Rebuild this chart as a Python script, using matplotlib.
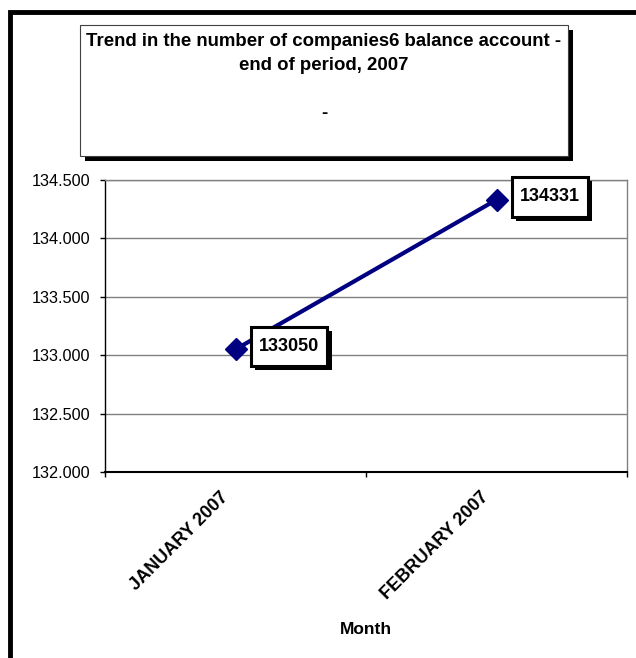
import matplotlib.pyplot as plt
import matplotlib.patheffects as pe
from matplotlib.patches import Rectangle
from matplotlib.path import Path
from matplotlib.ticker import FuncFormatter
from matplotlib.transforms import ScaledTranslation

# --- data ---
months = ['JANUARY 2007', 'FEBRUARY 2007']
companies = [133050, 134331]
y_ticks = [132000, 132500, 133000, 133500, 134000, 134500]

plt.rcParams['font.family'] = ['Liberation Sans', 'DejaVu Sans']

W, H = 636, 658
fig = plt.figure(figsize=(W / 100, H / 100), dpi=100)
fig.patch.set_facecolor('white')

def fx(px):
    return px / W

def fy(py):
    return 1 - py / H

# box with more room above/below the text than at the sides
def label_box(x0, y0, width, height, mutation_size):
    px, py = 0.45 * mutation_size, 0.62 * mutation_size
    x0, y0 = x0 - px, y0 - py
    x1, y1 = x0 + width + 2 * px, y0 + height + 2 * py
    return Path([(x0, y0), (x1, y0), (x1, y1), (x0, y1), (x0, y0)], closed=True)

# outer chart frame (runs off the right and bottom edges)
fig.patches.append(Rectangle((fx(10), fy(700)), fx(700), fy(12) - fy(700),
                             transform=fig.transFigure, fill=False,
                             edgecolor='black', linewidth=3.5, zorder=0))

# title box with shadow
tbox = Rectangle((fx(80), fy(156)), fx(568) - fx(80), fy(25) - fy(156),
                 transform=fig.transFigure, facecolor='white', edgecolor='#404040',
                 linewidth=0.8, zorder=1)
tbox.set_path_effects([pe.withSimplePatchShadow(offset=(3.8, -3.8),
                                                shadow_rgbFace='black', alpha=1)])
fig.patches.append(tbox)
fig.text(fx(324), fy(42), 'Trend in the number of companies6 balance account -',
         ha='center', va='center', fontsize=13.4, fontweight='bold')
fig.text(fx(324), fy(65), 'end of period, 2007',
         ha='center', va='center', fontsize=13.4, fontweight='bold')
fig.text(fx(324), fy(114), '-', ha='center', va='center', fontsize=13.4, fontweight='bold')

# plot area
ax = fig.add_axes([fx(105), fy(472), fx(627) - fx(105), fy(180) - fy(472)])
x = list(range(len(months)))
ax.plot(x, companies, color='#000080', linewidth=3, marker='D', markersize=11,
        zorder=3, clip_on=False)

ax.set_xlim(-0.5, len(months) - 0.5)
ax.set_ylim(y_ticks[0], y_ticks[-1])
ax.set_yticks(y_ticks)
ax.yaxis.set_major_formatter(FuncFormatter(lambda v, p: f'{v/1000:.3f}'))
ax.grid(axis='y', color='#808080', linewidth=1)
ax.set_axisbelow(True)

ax.set_xticks(x)
ax.set_xticks([i - 0.5 for i in range(len(months) + 1)], minor=True)
ax.tick_params(axis='x', which='major', length=0, pad=12)
ax.tick_params(axis='x', which='minor', length=3.6, width=1, direction='out')
ax.tick_params(axis='y', length=3.6, width=1, labelsize=11.7, pad=7)
ax.set_xticklabels(months, rotation=45, ha='right', va='top', rotation_mode='anchor',
                   fontsize=13, fontweight='bold')
shift = ScaledTranslation(-16 / 100, 0, fig.dpi_scale_trans)
for lab in ax.get_xticklabels():
    lab.set_transform(lab.get_transform() + shift)
ax.set_xlabel('Month', fontsize=12.5, fontweight='bold')
ax.xaxis.set_label_coords(0.5, -(629 - 472) / 292)
ax.xaxis.label.set_va('center')

for s in ['top', 'right']:
    ax.spines[s].set_color('#808080')
    ax.spines[s].set_linewidth(1)
ax.spines['left'].set_linewidth(1)
ax.spines['bottom'].set_linewidth(1.5)

# data labels in shadowed boxes
for xi, v in zip(x, companies):
    t = ax.annotate(str(v), (xi, v), xytext=(17, 2), textcoords='offset points',
                    ha='left', va='center', fontsize=13, fontweight='bold',
                    bbox=dict(boxstyle=label_box, facecolor='white',
                              edgecolor='black', linewidth=2.2), zorder=4)
    t.get_bbox_patch().set_path_effects([pe.withSimplePatchShadow(
        offset=(3, -3), shadow_rgbFace='black', alpha=1)])

fig.savefig('out.png', dpi=100, facecolor='white')
